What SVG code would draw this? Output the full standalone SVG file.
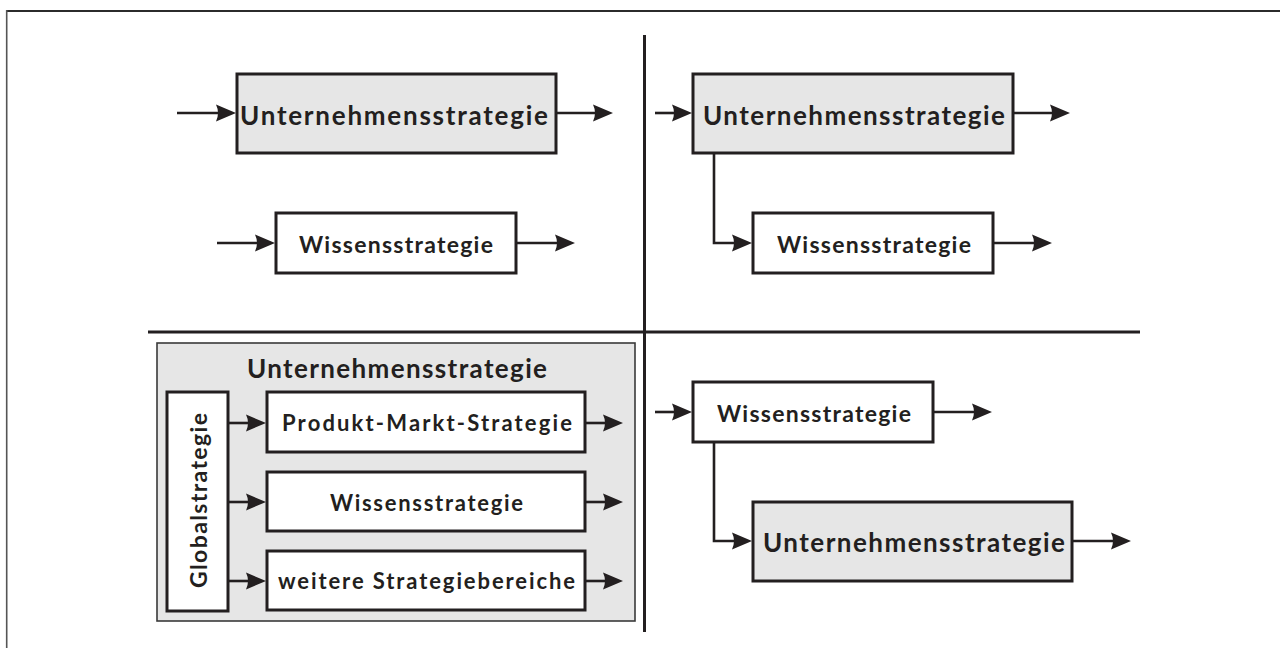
<svg xmlns="http://www.w3.org/2000/svg" width="1280" height="648" viewBox="0 0 1280 648">
  <defs>
    <marker id="arrow" markerUnits="userSpaceOnUse" viewBox="-14 -10 24 20" markerWidth="24" markerHeight="20" refX="0" refY="0" orient="auto">
      <path d="M 8 0 L -12 -8.5 Q -8 0 -12 8.5 Z" fill="#231f20"/>
    </marker>
  </defs>
  <style>
    .box { stroke: #231f20; stroke-width: 3; }
    .grey { fill: #e6e6e6; }
    .white { fill: #ffffff; }
    .label { font-family: Lato, "Open Sans", sans-serif; font-weight: bold; fill: #231f20; text-anchor: middle; }
    .big { font-size: 26px; }
    .mid { font-size: 23px; }
    .small { font-size: 22px; }
    .conn { fill: none; stroke: #231f20; stroke-width: 2.6; marker-end: url(#arrow); }
    .divider { stroke: #231f20; stroke-width: 3; }
  </style>

  <rect x="0" y="0" width="1280" height="648" fill="#ffffff"/>

  <!-- outer frame -->
  <g id="frame">
    <line x1="6" y1="11" x2="1280" y2="11" stroke="#2b2b2b" stroke-width="2"/>
    <line x1="6.7" y1="10" x2="6.7" y2="648" stroke="#555555" stroke-width="1.6"/>
  </g>

  <!-- quadrant dividers -->
  <g id="dividers">
    <line class="divider" x1="644.5" y1="35" x2="644.5" y2="632"/>
    <line class="divider" x1="148" y1="332" x2="1140" y2="332"/>
  </g>

  <!-- top left: separate strategies -->
  <g id="tl-unternehmen">
    <rect class="box grey" x="237" y="74" width="319" height="79"/>
    <text class="label big" x="394" y="125" textLength="308" lengthAdjust="spacing">Unternehmensstrategie</text>
  </g>
  <g id="tl-wissen">
    <rect class="box white" x="276" y="213" width="240" height="60"/>
    <text class="label mid" x="396" y="253" textLength="194" lengthAdjust="spacing">Wissensstrategie</text>
  </g>

  <!-- top right: knowledge strategy derived from corporate strategy -->
  <g id="tr-unternehmen">
    <rect class="box grey" x="693" y="74" width="320" height="79"/>
    <text class="label big" x="854" y="125" textLength="302" lengthAdjust="spacing">Unternehmensstrategie</text>
  </g>
  <g id="tr-wissen">
    <rect class="box white" x="753" y="213" width="240" height="60"/>
    <text class="label mid" x="874" y="253" textLength="194" lengthAdjust="spacing">Wissensstrategie</text>
  </g>

  <!-- bottom left: integrated corporate strategy -->
  <g id="bl-unternehmen">
    <rect x="157" y="343" width="478" height="278" fill="#e6e6e6" stroke="#3a3a3a" stroke-width="1.6"/>
    <text class="label big" x="397" y="378" textLength="300" lengthAdjust="spacing">Unternehmensstrategie</text>
  </g>
  <g id="bl-global">
    <rect class="box white" x="167" y="392" width="61" height="219"/>
    <text class="label mid" transform="translate(207 500.5) rotate(-90)" x="0" y="0" textLength="175" lengthAdjust="spacing">Globalstrategie</text>
  </g>
  <g id="bl-produkt">
    <rect class="box white" x="267" y="392" width="318" height="60"/>
    <text class="label small" x="427" y="431" textLength="290" lengthAdjust="spacing">Produkt-Markt-Strategie</text>
  </g>
  <g id="bl-wissen">
    <rect class="box white" x="267" y="472" width="318" height="59"/>
    <text class="label small" x="426.5" y="511" textLength="193" lengthAdjust="spacing">Wissensstrategie</text>
  </g>
  <g id="bl-weitere">
    <rect class="box white" x="267" y="551" width="318" height="59"/>
    <text class="label small" x="426.5" y="589" textLength="297" lengthAdjust="spacing">weitere Strategiebereiche</text>
  </g>

  <!-- bottom right: corporate strategy derived from knowledge strategy -->
  <g id="br-wissen">
    <rect class="box white" x="693" y="382" width="240" height="60"/>
    <text class="label mid" x="814" y="422" textLength="194" lengthAdjust="spacing">Wissensstrategie</text>
  </g>
  <g id="br-unternehmen">
    <rect class="box grey" x="753" y="502" width="319" height="79"/>
    <text class="label big" x="914" y="552" textLength="302" lengthAdjust="spacing">Unternehmensstrategie</text>
  </g>

  <!-- connectors -->
  <g id="connectors">
    <!-- top left -->
    <path class="conn" d="M 177 113 H 228"/>
    <path class="conn" d="M 556 113 H 605"/>
    <path class="conn" d="M 217 243 H 267"/>
    <path class="conn" d="M 516 243 H 567"/>
    <!-- top right -->
    <path class="conn" d="M 655 113 H 684"/>
    <path class="conn" d="M 1013 113 H 1062"/>
    <path class="conn" d="M 714 153 V 243 H 744"/>
    <path class="conn" d="M 993 243 H 1044"/>
    <!-- bottom left -->
    <path class="conn" d="M 228 423 H 258"/>
    <path class="conn" d="M 228 502 H 258"/>
    <path class="conn" d="M 228 581 H 258"/>
    <path class="conn" d="M 585 423 H 615"/>
    <path class="conn" d="M 585 502 H 615"/>
    <path class="conn" d="M 585 581 H 615"/>
    <!-- bottom right -->
    <path class="conn" d="M 655 412 H 684"/>
    <path class="conn" d="M 933 412 H 984"/>
    <path class="conn" d="M 714 442 V 541 H 744"/>
    <path class="conn" d="M 1072 541 H 1123"/>
  </g>
</svg>
